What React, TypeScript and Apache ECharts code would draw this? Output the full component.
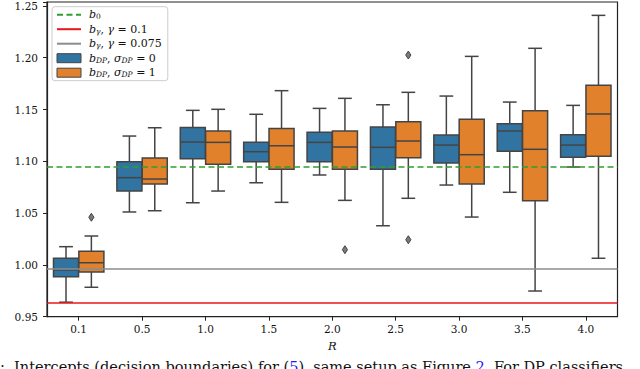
import React, { useEffect, useRef } from "react";
import * as echarts from "echarts";

const categories = ["0.1", "0.5", "1.0", "1.5", "2.0", "2.5", "3.0", "3.5", "4.0"];

// [lower whisker, Q1, median, Q3, upper whisker]
const sigma0Boxes = [
  [0.964, 0.9886, 0.9951, 1.0064, 1.0176],
  [1.0511, 1.0713, 1.0842, 1.0996, 1.1244],
  [1.06, 1.1024, 1.1186, 1.1326, 1.1492],
  [1.0793, 1.0996, 1.1093, 1.1183, 1.1454],
  [1.0868, 1.0996, 1.1183, 1.128, 1.1511],
  [1.0378, 1.0923, 1.1135, 1.1331, 1.1546],
  [1.0771, 1.0984, 1.1157, 1.1254, 1.163],
  [1.0701, 1.1097, 1.1293, 1.1363, 1.1572],
  [1.0945, 1.1039, 1.1157, 1.1257, 1.154],
];

const sigma1Boxes = [
  [0.9784, 0.9931, 1.0021, 1.0131, 1.0279],
  [1.0523, 1.0781, 1.0829, 1.1032, 1.1324],
  [1.0713, 1.0971, 1.1183, 1.1293, 1.1502],
  [1.0604, 1.0923, 1.115, 1.1318, 1.1682],
  [1.0623, 1.0923, 1.1138, 1.1293, 1.1608],
  [1.0643, 1.1035, 1.1196, 1.1382, 1.1666],
  [1.0462, 1.0781, 1.1064, 1.1405, 1.2013],
  [0.9748, 1.062, 1.1116, 1.1488, 1.2091],
  [1.0064, 1.1048, 1.1457, 1.1734, 1.2409],
];

// [category index, value]
const sigma1Outliers = [
  [0, 1.046],
  [4, 1.0147],
  [5, 1.2026],
  [5, 1.0243],
];

const b0 = 1.0945;
const bGamma01 = 0.9639;
const bGamma0075 = 0.9967;

const yTicks = [0.95, 1.0, 1.05, 1.1, 1.15, 1.2, 1.25];

const N_B0 = "b_0";
const N_G1 = "b_γ, γ = 0.1";
const N_G2 = "b_γ, γ = 0.075";
const N_D0 = "b_DP, σ_DP = 0";
const N_D1 = "b_DP, σ_DP = 1";

const richLabels: Record<string, string> = {
  [N_B0]: "{i|b}{s|0}",
  [N_G1]: "{i|b}{si|γ}{n|, }{i|γ}{n| = 0.1}",
  [N_G2]: "{i|b}{si|γ}{n|, }{i|γ}{n| = 0.075}",
  [N_D0]: "{i|b}{si|DP}{n|, }{i|σ}{si|DP}{n| = 0}",
  [N_D1]: "{i|b}{si|DP}{n|, }{i|σ}{si|DP}{n| = 1}",
};

const BLUE = "#3274a1";
const ORANGE = "#e1812c";
const EDGE = "#444444";
const SERIF = "DejaVu Serif";

function boxRenderer(sign: number, color: string) {
  return (params: any, api: any) => {
    const idx = api.value(0);
    const band = api.size([1, 0])[0];
    const w = band * 0.395;
    const cx = api.coord([idx, 0])[0] + sign * band * 0.2;
    const yLo = api.coord([idx, api.value(1)])[1];
    const yQ1 = api.coord([idx, api.value(2)])[1];
    const yMed = api.coord([idx, api.value(3)])[1];
    const yQ3 = api.coord([idx, api.value(4)])[1];
    const yHi = api.coord([idx, api.value(5)])[1];
    const cap = w * 0.55;
    const ls = { stroke: EDGE, lineWidth: 1.5 };
    return {
      type: "group",
      children: [
        { type: "line", shape: { x1: cx, y1: yHi, x2: cx, y2: yQ3 }, style: ls },
        { type: "line", shape: { x1: cx, y1: yQ1, x2: cx, y2: yLo }, style: ls },
        { type: "line", shape: { x1: cx - cap / 2, y1: yHi, x2: cx + cap / 2, y2: yHi }, style: ls },
        { type: "line", shape: { x1: cx - cap / 2, y1: yLo, x2: cx + cap / 2, y2: yLo }, style: ls },
        {
          type: "rect",
          shape: { x: cx - w / 2, y: yQ3, width: w, height: yQ1 - yQ3 },
          style: { fill: color, stroke: EDGE, lineWidth: 1.5 },
        },
        { type: "line", shape: { x1: cx - w / 2, y1: yMed, x2: cx + w / 2, y2: yMed }, style: ls },
      ],
    };
  };
}

function outlierRenderer(sign: number) {
  return (params: any, api: any) => {
    const idx = api.value(0);
    const band = api.size([1, 0])[0];
    const p = api.coord([idx, api.value(1)]);
    const cx = p[0] + sign * band * 0.2;
    const cy = p[1];
    return {
      type: "polygon",
      shape: { points: [[cx, cy - 4], [cx + 2.6, cy], [cx, cy + 4], [cx - 2.6, cy]] },
      style: { fill: "#7a7a7a", stroke: EDGE, lineWidth: 1 },
    };
  };
}

function refLine(name: string, value: number, color: string, type: any) {
  return {
    name,
    type: "line",
    data: [],
    symbol: "none",
    z: 1,
    itemStyle: { color },
    lineStyle: { color, width: 1.5, type },
    markLine: {
      silent: true,
      symbol: "none",
      precision: 6,
      label: { show: false },
      lineStyle: { color, width: 1.5, type },
      data: [{ yAxis: value }],
    },
  };
}

export default function App() {
  const ref = useRef<HTMLDivElement>(null);
  useEffect(() => {
    if (!ref.current) return;
    const chart = echarts.init(ref.current, null, { renderer: "svg" });
    const rich = {
      i: { fontFamily: SERIF, fontStyle: "italic", fontSize: 11, color: "#111", lineHeight: 14 },
      n: { fontFamily: SERIF, fontSize: 11, color: "#111", lineHeight: 14 },
      s: { fontFamily: SERIF, fontSize: 7.5, color: "#111", lineHeight: 14, padding: [4, 0, 0, 0] },
      si: { fontFamily: SERIF, fontStyle: "italic", fontSize: 7.5, color: "#111", lineHeight: 14, padding: [4, 0, 0, 0] },
    };
    chart.setOption({
      animation: false,
      backgroundColor: "#fff",
      grid: {
        left: 47,
        right: 22.5,
        top: 2,
        bottom: 52.3,
        show: true,
        borderColor: "#222",
        borderWidth: 1.2,
        backgroundColor: "transparent",
      },
      legend: {
        orient: "vertical",
        left: 52,
        top: 6.7,
        padding: [2, 6, 2, 4],
        itemWidth: 24,
        itemHeight: 9,
        itemGap: 2.5,
        backgroundColor: "rgba(255,255,255,0.85)",
        borderColor: "#cccccc",
        borderWidth: 1,
        borderRadius: 3,
        formatter: (name: string) => richLabels[name] || name,
        textStyle: { fontFamily: SERIF, fontSize: 11, color: "#111", padding: [0, 0, 0, 3], rich },
        data: [
          { name: N_B0, itemStyle: { opacity: 0 } },
          { name: N_G1, itemStyle: { opacity: 0 } },
          { name: N_G2, itemStyle: { opacity: 0 } },
          { name: N_D0, icon: "rect", itemStyle: { color: BLUE, borderColor: EDGE, borderWidth: 1 } },
          { name: N_D1, icon: "rect", itemStyle: { color: ORANGE, borderColor: EDGE, borderWidth: 1 } },
        ],
      },
      xAxis: {
        type: "category",
        data: categories,
        boundaryGap: true,
        name: "R",
        nameLocation: "middle",
        nameGap: 22,
        nameTextStyle: { fontFamily: SERIF, fontStyle: "italic", fontSize: 11.5, color: "#111" },
        axisLine: { show: true, lineStyle: { color: "#222", width: 1.2 } },
        axisTick: { show: true, alignWithLabel: true, length: 4, lineStyle: { color: "#222", width: 1 } },
        axisLabel: { margin: 7, fontFamily: SERIF, fontSize: 10.5, color: "#111" },
        splitLine: { show: false },
      },
      yAxis: {
        type: "value",
        min: 0.95,
        max: 1.2538,
        interval: 0.05,
        axisLine: { show: true, lineStyle: { color: "#222", width: 1.2 } },
        axisTick: { show: true, length: 4, lineStyle: { color: "#222", width: 1 } },
        axisLabel: {
          margin: 9,
          fontFamily: SERIF,
          fontSize: 10.5,
          color: "#111",
          formatter: (v: number) => (yTicks.some((t) => Math.abs(t - v) < 1e-6) ? v.toFixed(2) : ""),
        },
        splitLine: { show: false },
      },
      series: [
        refLine(N_B0, b0, "#2ca02c", [6, 3.5]),
        refLine(N_G1, bGamma01, "#e8161b", "solid"),
        refLine(N_G2, bGamma0075, "#8c8c8c", "solid"),
        {
          name: N_D0,
          type: "custom",
          z: 3,
          itemStyle: { color: BLUE },
          encode: { x: 0, y: [1, 2, 3, 4, 5] },
          renderItem: boxRenderer(-1, BLUE),
          data: sigma0Boxes.map((b, i) => [i, ...b]),
        },
        {
          name: N_D1,
          type: "custom",
          z: 3,
          itemStyle: { color: ORANGE },
          encode: { x: 0, y: [1, 2, 3, 4, 5] },
          renderItem: boxRenderer(1, ORANGE),
          data: sigma1Boxes.map((b, i) => [i, ...b]),
        },
        {
          name: "outliers",
          type: "custom",
          z: 3,
          encode: { x: 0, y: 1 },
          renderItem: outlierRenderer(1),
          data: sigma1Outliers,
        },
      ],
      graphic: [
        {
          type: "text",
          left: 0,
          top: 359,
          silent: true,
          style: {
            text:
              "{n|:  Intercepts (decision boundaries) for (}{b|5}{n|), same setup as Figure }{b|2}{n|. For DP classifiers}",
            rich: {
              n: { fontFamily: SERIF, fontSize: 14.5, fill: "#111" },
              b: { fontFamily: SERIF, fontSize: 14.5, fill: "#1a1aff" },
            },
          },
        },
      ],
    });
    return () => chart.dispose();
  }, []);
  return (
    <div
      ref={ref}
      style={{ position: "absolute", left: 0, top: 0, width: 640, height: 369, background: "#fff" }}
    />
  );
}
